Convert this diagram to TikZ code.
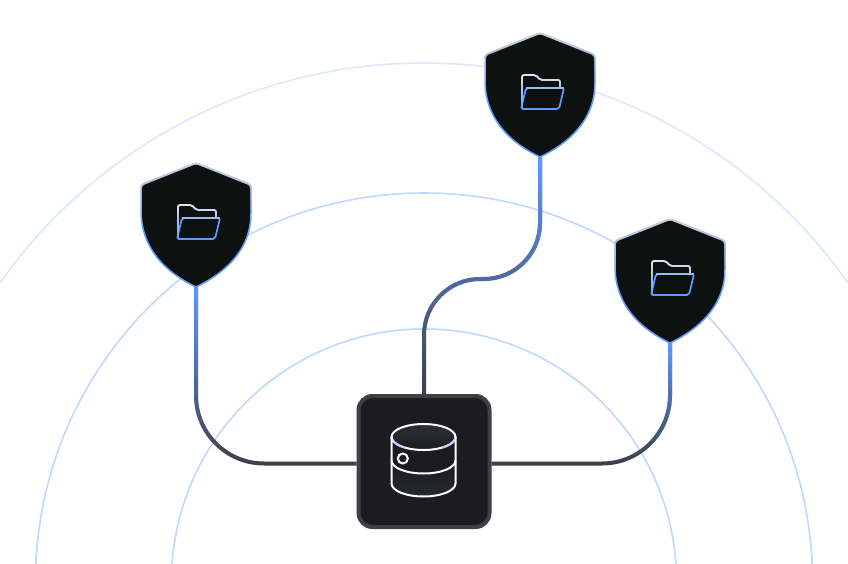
\documentclass[tikz,border=0pt]{standalone}
\usepackage{xcolor}
\usetikzlibrary{calc,fadings}
\definecolor{ringsoft}{HTML}{DCE9FD}
\definecolor{ringblue}{HTML}{BFD8FE}
\definecolor{linkblue}{HTML}{5F9BFF}
\definecolor{linkdark}{HTML}{3F3F46}
\definecolor{guardfill}{HTML}{0D1110}
\definecolor{guardrim}{HTML}{CDD0D6}
\definecolor{folderrim}{HTML}{E2E5EA}
\definecolor{storefill}{HTML}{1C1C20}
\definecolor{capfill}{HTML}{2B3035}
\tikzfading[name=linkfade,top color=transparent!0,middle color=transparent!38,bottom color=transparent!100]
\tikzfading[name=rimfade,top color=transparent!0,middle color=transparent!25,bottom color=transparent!100]
\tikzset{
  ring/.style={line width=1.6pt,ringblue},
  link/.style={line width=4pt,linkdark},
  linkglow/.style={line width=4pt,linkblue,path fading=linkfade},
  guardbox/.style={minimum width=110pt,minimum height=124pt,inner sep=0pt,outer sep=0pt},
  pics/shield/.style={code={
    \draw[line width=1.5pt,linkblue,fill=guardfill,rounded corners=3pt,line join=round]
      (0,62) -- (55,40) -- (55,15) {[sharp corners] .. controls (55,-26) and (27,-49) .. (0,-62)
      .. controls (-27,-49) and (-55,-26) .. (-55,15)} -- (-55,40) -- cycle;
    \draw[line width=1.9pt,guardrim,rounded corners=3pt,path fading=rimfade]
      (-55,-10) -- (-55,40) -- (0,62) -- (55,40) -- (55,-10);
    % folder
    \draw[line width=1.7pt,linkblue,rounded corners=2pt,line join=round]
      (-18,-13) -- (-18,20) -- (-4,20) -- (0,15) -- (20,15) -- (20,7)
      (-14,7) -- (24,7) -- (19,-14) -- (-19,-14) -- cycle;
    \draw[line width=1.7pt,folderrim,rounded corners=2pt,path fading=linkfade]
      (-18,-13) -- (-18,20) -- (-4,20) -- (0,15) -- (20,15) -- (20,7);
    \draw[line width=1.7pt,folderrim!45!linkblue,rounded corners=2pt] (-14,7) -- (24,7);
  }}
}
\begin{document}
\begin{tikzpicture}[x=1pt,y=1pt]
  \useasboundingbox (0,0) rectangle (848,-564);
  \fill[white] (0,0) rectangle (848,-564);

  % rings round the store
  \coordinate (hub) at (424,-581.5);
  \begin{scope}
    \clip (0,0) rectangle (848,-564);
    \draw[ring,ringsoft] (hub) circle[radius=518.5pt];
    \draw[ring] (hub) circle[radius=388.5pt];
    \draw[ring] (hub) circle[radius=252.5pt];
  \end{scope}

  \node[guardbox] (guardLeft) at (196,-225) {};
  \node[guardbox] (guardTop) at (540,-95) {};
  \node[guardbox] (guardRight) at (670,-281) {};
  \node[draw=linkdark,fill=storefill,line width=4pt,rounded corners=14pt,
    minimum size=131pt,inner sep=0pt] (store) at (424,-461.5) {};

  % links
  \foreach \style in {link,linkglow}{
    \draw[\style,rounded corners=68pt] (guardLeft.south) |- ($(store.west)+(0,-2)$);
    \draw[\style,rounded corners=68pt] (guardRight.south) |- ($(store.east)+(0,-2)$);
    \draw[\style,rounded corners=56pt] (guardTop.south) |- ($(store.north)+(0,115)$) -- (store.north);
  }

  \pic at (guardLeft) {shield};
  \pic at (guardTop) {shield};
  \pic at (guardRight) {shield};

  % database icon
  \begin{scope}[shift={($(store.center)+(-0.5,0)$)}]
    \shade[top color=capfill,bottom color=storefill] (0,24.5) ellipse[x radius=32pt,y radius=13pt];
    \shade[top color=storefill,bottom color=capfill!60!storefill]
      (-32,1) arc[start angle=180,end angle=360,x radius=32pt,y radius=13pt]
      -- (32,-22) arc[start angle=0,end angle=-180,x radius=32pt,y radius=13pt] -- cycle;
    \draw[line width=2pt,white] (0,24.5) ellipse[x radius=32pt,y radius=13pt];
    \draw[line width=2pt,white!55!linkblue]
      (-32,24.5) arc[start angle=180,end angle=235,x radius=32pt,y radius=13pt]
      (32,24.5) arc[start angle=0,end angle=-55,x radius=32pt,y radius=13pt];
    \draw[line width=2pt,white,line cap=round]
      (-32,24.5) -- (-32,-22) arc[start angle=180,end angle=360,x radius=32pt,y radius=13pt] -- (32,24.5);
    \draw[line width=2pt,white] (-32,1) arc[start angle=180,end angle=360,x radius=32pt,y radius=13pt];
    \draw[line width=2pt,white] (-20.7,3) circle[radius=5pt];
  \end{scope}
\end{tikzpicture}
\end{document}
